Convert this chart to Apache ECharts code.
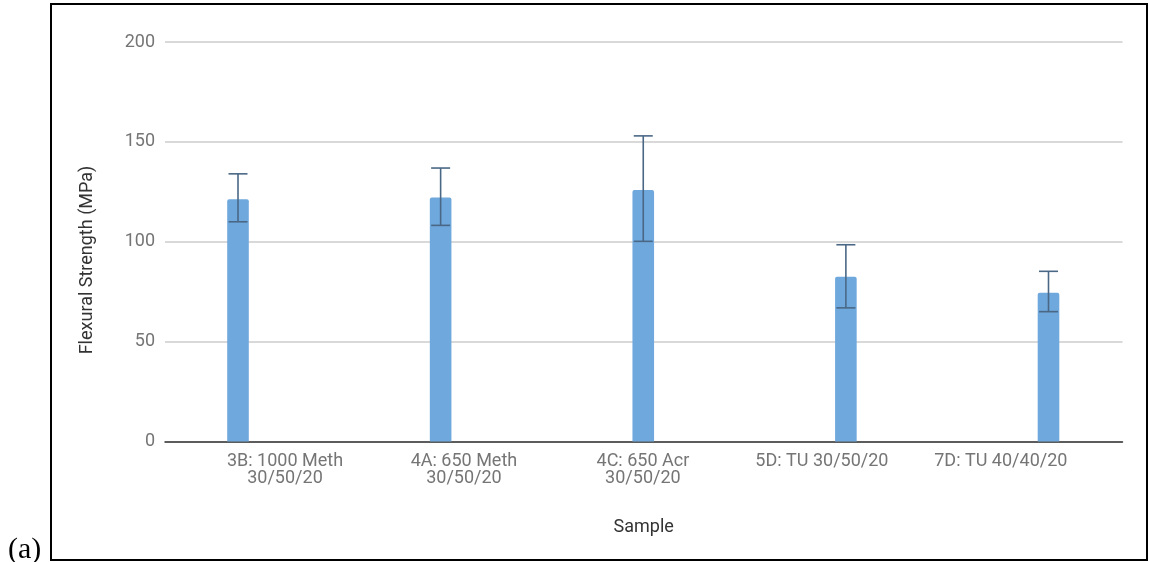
<!DOCTYPE html>
<html>
<head>
<meta charset="utf-8">
<style>
  html, body { margin: 0; padding: 0; background: #ffffff; }
  #chart { width: 1149px; height: 562px; }
</style>
<script src="https://cdn.jsdelivr.net/npm/echarts@6/dist/echarts.min.js"></script>
</head>
<body>
<div id="chart"></div>
<script>
// Sample names (line break splits long names onto two rows)
const categories = [
  '3B: 1000 Meth\n30/50/20',
  '4A: 650 Meth\n30/50/20',
  '4C: 650 Acr\n30/50/20',
  '5D: TU 30/50/20',
  '7D: TU 40/40/20'
];
// Mean flexural strength (MPa)
const meanStrength = [121.3, 122.2, 125.9, 82.5, 74.5];
// Error bar bounds (MPa)
const errorLow  = [110.0, 108.2, 100.2, 66.9, 65.0];
const errorHigh = [134.0, 136.9, 153.0, 98.5, 85.2];
// Value axis range
const yMin = 0, yMax = 200, yStep = 50;

// Bars sit on a numeric sample-index axis; labels use their own category band
const barData = meanStrength.map((v, i) => [i, v]);
const errorData = categories.map((c, i) => [i, errorLow[i], errorHigh[i]]);

const chart = echarts.init(document.getElementById('chart'), null, { renderer: 'canvas' });

const labelFont = 'Roboto, "Noto Sans", sans-serif';
const plotTop = 42, plotBottom = 120.5;

chart.setOption({
  animation: false,
  backgroundColor: '#ffffff',
  grid: [
    { left: 165, right: 26.5, top: plotTop, bottom: plotBottom, containLabel: false },
    { left: 195.5, right: 58.7, top: plotTop, bottom: plotBottom, containLabel: false }
  ],
  xAxis: [
    {
      gridIndex: 0,
      type: 'value',
      min: -0.3603,
      max: 4.3652,
      axisLine: { show: true, onZero: false, lineStyle: { color: '#333333', width: 1.5 } },
      axisTick: { show: false },
      axisLabel: { show: false },
      splitLine: { show: false },
      name: 'Sample',
      nameLocation: 'middle',
      nameGap: 77,
      nameTextStyle: {
        color: '#333333',
        fontFamily: labelFont,
        fontSize: 18,
        verticalAlign: 'top'
      }
    },
    {
      gridIndex: 1,
      type: 'category',
      data: categories,
      axisLine: { show: false },
      axisTick: { show: false },
      splitLine: { show: false },
      axisLabel: {
        color: '#757575',
        fontFamily: labelFont,
        fontSize: 18,
        lineHeight: 17.5,
        margin: 11,
        interval: 0
      }
    }
  ],
  yAxis: [
    {
      gridIndex: 0,
      type: 'value',
      min: yMin,
      max: yMax,
      interval: yStep,
      axisLine: { show: false },
      axisTick: { show: false },
      splitLine: { lineStyle: { color: '#cccccc', width: 1.5 } },
      axisLabel: {
        color: '#757575',
        fontFamily: labelFont,
        fontSize: 18,
        margin: 10
      }
    },
    {
      gridIndex: 1,
      type: 'value',
      min: yMin,
      max: yMax,
      interval: yStep,
      show: false
    }
  ],
  series: [
    {
      type: 'bar',
      xAxisIndex: 0,
      yAxisIndex: 0,
      data: barData,
      barWidth: 21.6,
      itemStyle: { color: '#6fa8dc', borderRadius: [2, 2, 0, 0] },
      z: 2
    },
    {
      type: 'custom',
      xAxisIndex: 0,
      yAxisIndex: 0,
      data: errorData,
      z: 3,
      renderItem: function (params, api) {
        const idx = api.value(0);
        const lowPt = api.coord([idx, api.value(1)]);
        const highPt = api.coord([idx, api.value(2)]);
        const half = 9.5;
        const style = { stroke: '#4a6886', lineWidth: 1.6, fill: null };
        return {
          type: 'group',
          children: [
            { type: 'line', shape: { x1: highPt[0], y1: highPt[1], x2: lowPt[0], y2: lowPt[1] }, style: style },
            { type: 'line', shape: { x1: highPt[0] - half, y1: highPt[1], x2: highPt[0] + half, y2: highPt[1] }, style: style },
            { type: 'line', shape: { x1: lowPt[0] - half, y1: lowPt[1], x2: lowPt[0] + half, y2: lowPt[1] }, style: style }
          ]
        };
      }
    }
  ],
  graphic: [
    {
      type: 'rect',
      shape: { x: 51, y: 4, width: 1096, height: 556 },
      style: { fill: null, stroke: '#000000', lineWidth: 2 },
      z: 10
    },
    {
      type: 'text',
      x: 87,
      y: 260,
      rotation: Math.PI / 2,
      style: {
        text: 'Flexural Strength (MPa)',
        fill: '#333333',
        font: '18px ' + labelFont,
        align: 'center',
        verticalAlign: 'middle'
      }
    },
    {
      type: 'text',
      x: 8,
      y: 550.5,
      style: {
        text: '(a)',
        fill: '#000000',
        font: '30px "Liberation Serif", "DejaVu Serif", serif',
        align: 'left',
        verticalAlign: 'middle'
      }
    }
  ]
});
</script>
</body>
</html>
